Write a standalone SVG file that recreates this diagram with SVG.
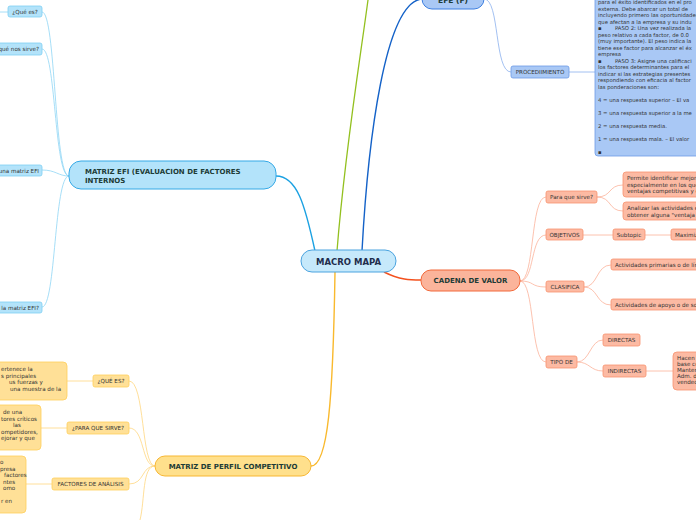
<svg xmlns="http://www.w3.org/2000/svg" width="696" height="520" viewBox="0 0 696 520">
<style>
text{font-family:"DejaVu Sans","Liberation Sans",sans-serif}
.lbl{font-size:5.6px;fill:#333}
.big{font-size:7px;font-weight:bold;fill:#1d3b36}
.c{text-anchor:middle}
.e{text-anchor:end}
.efiC{fill:#b3e3fa;stroke:#7fcff3;stroke-width:0.8}
.efeC{fill:#a9c8f5;stroke:#6c9be6;stroke-width:0.8}
.yelC{fill:#ffe097;stroke:#ffcf5c;stroke-width:0.8}
.redC{fill:#fcbaa3;stroke:#f7936f;stroke-width:0.8}
.cn path{fill:none}
.t{font-size:5.3px;fill:#333}
</style>
<rect width="696" height="520" fill="#ffffff"/>
<g class="cn" id="connectors">
  <path d="M315,251 C305,205 297,176 276,176" stroke="#1ba1e2" stroke-width="1.4"/>
  <path d="M337,251 C345,150 360,60 368,0" stroke="#93c01f" stroke-width="1.3"/>
  <path d="M362,251 C368,140 385,2 422,-1" stroke="#1462c8" stroke-width="1.4"/>
  <path d="M335,272 C333,400 328,466 311,466" stroke="#f9b92d" stroke-width="1.4"/>
  <path d="M384,272 C400,280 410,280 421,280" stroke="#f4511e" stroke-width="1.6"/>
  <g stroke="#8fd6f5" stroke-width="0.8">
    <path d="M69,176 C54,176 56,12 42,12"/>
    <path d="M69,176 C54,176 56,49 42,49"/>
    <path d="M69,176 C58,176 56,170 42,170"/>
    <path d="M69,176 C54,176 56,307 42,307"/>
    <path d="M0,12 L8,12"/>
  </g>
  <g stroke="#8ab0ee" stroke-width="0.8">
    <path d="M484,-1 C500,-1 494,72 511,72"/>
    <path d="M569,72 L595,72"/>
  </g>
  <g stroke="#ffd780" stroke-width="0.8">
    <path d="M155,466 C141,466 145,381 129,381"/>
    <path d="M155,466 C141,466 145,428 129,428"/>
    <path d="M155,466 C141,466 145,484 129,484"/>
    <path d="M155,466 C142,466 145,500 140,520"/>
    <path d="M67,381 L93,381"/>
    <path d="M41,428 L67,428"/>
    <path d="M26,484 L52,484"/>
  </g>
  <g stroke="#fbb39a" stroke-width="0.8">
    <path d="M520,281 C535,281 530,197 546,197"/>
    <path d="M520,281 C535,281 530,235 546,235"/>
    <path d="M520,281 C535,281 530,287 546,287"/>
    <path d="M520,281 C535,281 530,362 546,362"/>
    <path d="M597,197 C612,197 608,185 623,185"/>
    <path d="M597,197 C612,197 608,211 623,211"/>
    <path d="M583,235 L613,235"/>
    <path d="M645,235 L671,235"/>
    <path d="M584,287 C598,287 596,265 611,265"/>
    <path d="M584,287 C598,287 596,305 611,305"/>
    <path d="M577,362 C590,362 590,340 603,340"/>
    <path d="M577,362 C590,362 590,371 603,371"/>
    <path d="M646,371 L673,371"/>
  </g>
</g>
<g id="macro-mapa">
  <rect x="301" y="250" width="95" height="22" rx="11" fill="#c6e9fb" stroke="#4aa3df" stroke-width="1"/>
  <text x="348.5" y="264.8" class="c" font-size="8.5" font-weight="bold" fill="#1f2d4d">MACRO MAPA</text>
</g>
<g id="matriz-efi">
  <rect x="69" y="161" width="207" height="28" rx="12" fill="#b3e3fa" stroke="#35a9e6" stroke-width="1"/>
  <text x="85" y="174" class="big">MATRIZ EFI (EVALUACION DE FACTORES</text>
  <text x="85" y="183" class="big">INTERNOS</text>
</g>
<g id="efi-que-es">
  <rect x="8" y="6" width="34" height="11" rx="2" class="efiC"/>
  <text x="25" y="13.6" class="lbl c">¿Qué es?</text>
</g>
<g id="efi-para-que">
  <rect x="-20" y="43" width="62" height="12" rx="2" class="efiC"/>
  <text x="39" y="51" class="lbl e">¿Para qué nos sirve?</text>
</g>
<g id="efi-elaboracion">
  <rect x="-20" y="165" width="62" height="11" rx="2" class="efiC"/>
  <text x="39" y="172.6" class="lbl e">una matriz EFI</text>
</g>
<g id="efi-como">
  <rect x="-20" y="302" width="62" height="11" rx="2" class="efiC"/>
  <text x="39" y="309.6" class="lbl e">la matriz EFI?</text>
</g>
<g id="efe">
  <rect x="422" y="-14" width="62" height="23" rx="10" fill="#a9c8f5" stroke="#3d7fe0" stroke-width="1"/>
  <text x="453" y="3" class="c" font-size="7.5" font-weight="bold" fill="#1d3b36">EFE (F)</text>
</g>
<g id="procedimiento">
  <rect x="511" y="66" width="58" height="12" rx="2" class="efeC"/>
  <text x="540" y="74.1" class="lbl c">PROCEDIIMIENTO</text>
</g>
<g id="procedimiento-texto">
  <rect x="595" y="-10" width="110" height="166" rx="3" class="efeC"/>
  <text x="598" y="4" class="t">para el éxito identificados en el pro</text>
  <text x="598" y="10.5" class="t">externa. Debe abarcar un total de</text>
  <text x="598" y="17" class="t">incluyendo primero las oportunidades</text>
  <text x="598" y="23.5" class="t">que afectan a la empresa y su indu</text>
  <text x="598" y="30" class="t">▪<tspan x="615">PASO 2: Una vez realizada la</tspan></text>
  <text x="598" y="36.5" class="t">peso relativo a cada factor, de 0.0</text>
  <text x="598" y="43" class="t">(muy importante). El peso indica la</text>
  <text x="598" y="49.5" class="t">tiene ese factor para alcanzar el éx</text>
  <text x="598" y="56" class="t">empresa</text>
  <text x="598" y="62.5" class="t">▪<tspan x="615">PASO 3: Asigne una calificaci</tspan></text>
  <text x="598" y="69" class="t">los factores determinantes para el</text>
  <text x="598" y="75.5" class="t">indicar si las estrategias presentes</text>
  <text x="598" y="82" class="t">respondiendo con eficacia al factor</text>
  <text x="598" y="88.5" class="t">las ponderaciones son:</text>
  <text x="598" y="101.5" class="t">4 = una respuesta superior – El va</text>
  <text x="598" y="114.5" class="t">3 = una respuesta superior a la me</text>
  <text x="598" y="127.5" class="t">2 = una respuesta media.</text>
  <text x="598" y="140.5" class="t">1 = una respuesta mala. – El valor</text>
  <text x="598" y="153.5" class="t">▪</text>
</g>
<g id="matriz-perfil">
  <rect x="155" y="456" width="156" height="20" rx="10" fill="#ffe08c" stroke="#f7b733" stroke-width="1"/>
  <text x="233" y="468.5" class="big c">MATRIZ DE PERFIL COMPETITIVO</text>
</g>
<g id="perfil-que-es">
  <rect x="93" y="375" width="36" height="12" rx="2" class="yelC"/>
  <text x="111" y="383.1" class="lbl c">¿QUÉ ES?</text>
</g>
<g id="perfil-que-es-texto">
  <rect x="-10" y="362" width="77" height="38" rx="4" class="yelC"/>
  <text x="1" y="371" class="lbl">ertenece la</text>
  <text x="1" y="377.5" class="lbl">s principales</text>
  <text x="9" y="384" class="lbl">us fuerzas y</text>
  <text x="10" y="390.5" class="lbl">una muestra de la</text>
</g>
<g id="perfil-para-que">
  <rect x="67" y="422" width="62" height="12" rx="2" class="yelC"/>
  <text x="98" y="430.1" class="lbl c">¿PARA QUE SIRVE?</text>
</g>
<g id="perfil-para-que-texto">
  <rect x="-10" y="405" width="51" height="45" rx="4" class="yelC"/>
  <text x="3" y="414" class="lbl">de una</text>
  <text x="1" y="420.5" class="lbl">tores críticos</text>
  <text x="13" y="427" class="lbl">las</text>
  <text x="1" y="433.5" class="lbl">ompetidores,</text>
  <text x="1" y="440" class="lbl">ejorar y que</text>
</g>
<g id="perfil-factores">
  <rect x="52" y="478" width="77" height="12" rx="2" class="yelC"/>
  <text x="90.5" y="486.1" class="lbl c">FACTORES DE ANÁLISIS</text>
</g>
<g id="perfil-factores-texto">
  <rect x="-10" y="456" width="36" height="57" rx="4" class="yelC"/>
  <text x="0" y="464" class="lbl">o</text>
  <text x="0" y="470.5" class="lbl">presa</text>
  <text x="4" y="477" class="lbl">factores</text>
  <text x="3" y="483.5" class="lbl">ntes</text>
  <text x="3" y="490" class="lbl">omo</text>
  <text x="1" y="503" class="lbl">r en</text>
</g>
<g id="cadena-valor">
  <rect x="421" y="270" width="99" height="21" rx="10" fill="#fbb49b" stroke="#f2693a" stroke-width="1"/>
  <text x="470.5" y="283" class="big c">CADENA DE VALOR</text>
</g>
<g id="para-que-sirve">
  <rect x="546" y="191" width="51" height="12" rx="2" class="redC"/>
  <text x="571.5" y="199.1" class="lbl c">Para que sirve?</text>
</g>
<g id="permite">
  <rect x="623" y="172" width="80" height="25" rx="3" class="redC"/>
  <text x="627" y="180" class="lbl">Permite identificar mejor</text>
  <text x="627" y="186.5" class="lbl">especialmente en los que</text>
  <text x="627" y="193" class="lbl">ventajas competitivas y c</text>
</g>
<g id="analizar">
  <rect x="623" y="202" width="80" height="18" rx="3" class="redC"/>
  <text x="627" y="210" class="lbl">Analizar las actividades e</text>
  <text x="627" y="216.5" class="lbl">obtener alguna "ventaja</text>
</g>
<g id="objetivos">
  <rect x="546" y="229" width="37" height="11" rx="2" class="redC"/>
  <text x="564.5" y="236.7" class="lbl c">OBJETIVOS</text>
</g>
<g id="subtopic">
  <rect x="613" y="229" width="32" height="11" rx="2" class="redC"/>
  <text x="629" y="236.7" class="lbl c">Subtopic</text>
</g>
<g id="maximiz">
  <rect x="671" y="229" width="40" height="11" rx="2" class="redC"/>
  <text x="675" y="236.7" class="lbl">Maximiz</text>
</g>
<g id="clasifica">
  <rect x="546" y="281" width="38" height="11" rx="2" class="redC"/>
  <text x="565" y="288.7" class="lbl c">CLASIFICA</text>
</g>
<g id="primarias">
  <rect x="611" y="259" width="95" height="11" rx="2" class="redC"/>
  <text x="615" y="266.7" class="lbl">Actividades primarias o de lín</text>
</g>
<g id="apoyo">
  <rect x="611" y="299" width="95" height="11" rx="2" class="redC"/>
  <text x="615" y="306.7" class="lbl">Actividades de apoyo o de sop</text>
</g>
<g id="tipo-de">
  <rect x="546" y="356" width="31" height="12" rx="2" class="redC"/>
  <text x="561.5" y="364.1" class="lbl c">TIPO DE</text>
</g>
<g id="directas">
  <rect x="603" y="334" width="37" height="12" rx="2" class="redC"/>
  <text x="621.5" y="342.1" class="lbl c">DIRECTAS</text>
</g>
<g id="indirectas">
  <rect x="603" y="365" width="43" height="12" rx="2" class="redC"/>
  <text x="624.5" y="373.1" class="lbl c">INDIRECTAS</text>
</g>
<g id="hacen">
  <rect x="673" y="352" width="40" height="38" rx="4" class="redC"/>
  <text x="677" y="360" class="lbl">Hacen</text>
  <text x="677" y="366" class="lbl">base co</text>
  <text x="677" y="372" class="lbl">Manten</text>
  <text x="677" y="378" class="lbl">Adm. de</text>
  <text x="677" y="384" class="lbl">vended</text>
</g>
</svg>
